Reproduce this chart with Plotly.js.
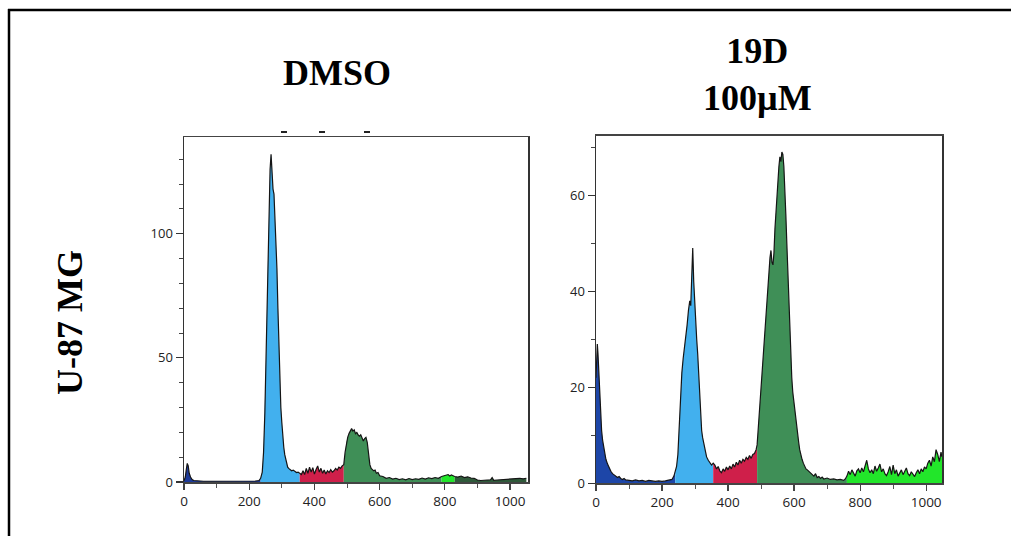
<!DOCTYPE html>
<html>
<head>
<meta charset="utf-8">
<script src="https://cdn.plot.ly/plotly-3.0.1.min.js"></script>
<style>html,body{margin:0;padding:0;background:#fff;}#chart{width:1011px;height:536px;}</style>
</head>
<body>
<div id="chart"></div>
<script>
// ---- DMSO histogram (channel, count) ----
const dmsoX = [0,4,7,10,13,16,20,25,30,40,60,80,100,120,140,160,180,200,220,230,235,
  240,244,248,252,256,260,264,267,270,273,276,279,282,285,288,291,294,297,300,303,306,309,312,315,318,321,325,330,335,340,345,350,355,
  360,365,370,375,380,385,390,395,400,405,410,415,420,425,430,435,440,445,450,455,460,465,470,475,480,485,490,
  494,498,502,506,510,514,518,522,526,530,534,538,542,546,550,554,558,562,566,570,574,578,582,586,590,595,600,610,620,630,640,650,660,670,680,690,700,710,720,730,740,750,
  760,770,780,790,800,810,815,820,830,840,850,860,870,880,890,900,910,920,930,940,945,950,960,970,980,990,1000,1010,1020,1030,1040,1050];
const dmsoY = [0.5,2,5,7.5,6.5,3.5,2,1,0.6,0.4,0.3,0.3,0.3,0.2,0.3,0.3,0.3,0.3,0.4,0.6,1.5,
  4,12,28,52,80,108,126,132,124,118,116,108,98,86,70,55,42,30,24,18,14,11,9,7,6,5.5,5,4.5,4.8,4.2,3.8,4,3.5,
  3,4.5,3,5.5,3.5,6,4,5.8,3.2,5,6.5,4,5.5,3.5,4.8,3.2,4.5,3.8,5,4,4.5,5.5,4.8,6,5.5,6.5,7,
  12,16,18,19.5,20.5,21.5,20.5,21,19.5,20,19,18.5,19,17.5,16.5,17.5,18,16,11,7,5.5,5,4.5,4.8,3.5,3.8,2.5,2.2,1.5,1.8,1.2,1.5,1,1.3,0.9,1.4,1,1.3,1.1,1.6,1.2,1.7,
  1.4,1.8,1.5,2.2,2.5,3,2.4,2.8,2.2,2,2.4,1.8,2.1,1.6,1.5,0.8,0.6,0.7,0.6,0.9,1.8,0.7,0.8,0.9,1.1,0.9,1.2,1.3,1.2,1.5,1.3,1.5];
const dmsoGates = [0,235,355,490,790,830,1050];
const dmsoColors = ['#1d3a98','#42b0ee','#cf1f4a','#3f8f57','#22e62a','#2f5a3a'];

// ---- 19D 100µM histogram ----
const d19X = [0,2,4,6,8,10,12,14,17,20,23,26,30,35,40,45,50,55,60,65,70,75,80,85,90,100,110,120,130,140,150,160,170,180,190,200,210,220,230,236,240,
  244,248,252,256,260,264,268,272,276,280,284,287,290,293,296,299,302,305,308,311,314,317,320,323,327,331,335,340,345,350,355,
  360,365,370,375,380,385,390,395,400,405,410,415,420,425,430,435,440,445,450,455,460,465,470,475,480,485,488,
  491,495,499,503,507,511,515,519,523,527,530,533,536,539,542,545,548,551,554,557,560,563,566,569,572,575,578,581,584,587,590,593,596,599,602,605,608,611,614,617,620,624,628,632,636,640,645,650,655,660,665,670,675,680,685,690,700,710,720,730,740,750,755,760,
  765,770,775,780,785,790,795,800,805,810,815,820,825,830,835,840,845,850,855,860,865,870,875,880,885,890,895,900,905,910,915,920,925,930,935,940,945,950,955,960,965,970,975,980,985,990,995,1000,1005,1010,1015,1020,1025,1030,1035,1040,1045,1048];
const d19Y = [22,28,29,27,24,20,16,13,11,9,7.5,6,5,4,3.2,2.5,2,1.8,1.5,1.2,1.4,1,0.8,1,0.7,0.6,0.5,0.7,0.5,0.6,0.4,0.6,0.5,0.4,0.5,0.4,0.5,0.6,0.8,1.5,2.5,
  3.5,6,12,18,23,26,28,31,33,36,38,37,44,49,42,37,35,30,27,23,19,14,11,9.5,8,6.5,5.5,4.8,4.2,3.8,4.2,
  3.8,3,3.5,2.6,2.2,3,2.5,3.4,2.8,3.6,3,4,3.4,4.4,3.8,4.8,4.2,5,4.6,5.4,5,5.8,5.2,6,6.2,7,8,
  11,15,20,25,28,32,35,40,44,47,48.5,46,45.5,48,53,57,61,63,66,68,67,69,68.5,66,62,56,50,44,38,33,27,22,19,17,16,14,12,10,8.5,7,6,5,4.2,3.5,3,2.8,2.5,2.2,1.8,1.5,2,1.2,1.4,1,1.3,0.9,1.1,0.8,0.9,0.7,0.8,0.6,0.9,1.5,
  2.5,1.8,2.8,2,1.5,2.6,3,2.2,3.2,2.4,3.5,4.8,3,2.2,2.8,2,3.6,2.5,3.2,4,2.4,3,2,1.6,2.4,3.5,1.8,3.8,2,2.8,1.5,2.2,2.8,1.8,2.5,3.2,2,1.6,2.4,2,1.4,2.2,2.8,2,3,2.4,3.4,3,4.2,4.8,3.6,5.5,4.5,7,6,4.5,6.5,5.5];
const d19Gates = [0,240,355,488,760,1048];
const d19Colors = ['#1d46a8','#42b0ee','#cf1f4a','#3f8f57','#22e62a'];

const xTicks = [0,200,400,600,800,1000];
const titles = ['<b>DMSO</b>','<b>19D</b><br><b>100µM</b>'];
const rowLabel = '<b>U-87 MG</b>';

function buildTraces(xs, ys, gates, colors, xa, ya) {
  const out = [];
  for (let g = 0; g < gates.length - 1; g++) {
    const sx = [], sy = [];
    for (let i = 0; i < xs.length; i++) {
      if (xs[i] >= gates[g] && xs[i] <= gates[g+1]) { sx.push(xs[i]); sy.push(ys[i]); }
    }
    out.push({x: sx, y: sy, xaxis: xa, yaxis: ya, type: 'scatter', mode: 'lines',
      fill: 'tozeroy', fillcolor: colors[g], line: {width: 0, color: colors[g]}, hoverinfo: 'skip'});
  }
  out.push({x: xs, y: ys, xaxis: xa, yaxis: ya, type: 'scatter', mode: 'lines',
    line: {width: 1.2, color: '#151515'}, hoverinfo: 'skip'});
  return out;
}

const data = [].concat(
  buildTraces(dmsoX, dmsoY, dmsoGates, dmsoColors, 'x', 'y'),
  buildTraces(d19X, d19Y, d19Gates, d19Colors, 'x2', 'y2')
);

const W = 1011, H = 536;
const px = v => v / W, py = v => (H - v) / H;
const tickFont = {family: 'Open Sans, DejaVu Sans, sans-serif', size: 13.5, color: '#222'};
function xAxis(dom, rng, anchor) {
  return {domain: dom, range: rng, anchor: anchor, showline: true, linecolor: '#444', linewidth: 1.5, mirror: true,
    ticks: 'outside', ticklen: 6, tickwidth: 1.2, tickcolor: '#444', tickvals: xTicks, ticktext: xTicks.map(String),
    minor: {dtick: 100, tick0: 0, ticks: 'outside', ticklen: 4, tickwidth: 1, tickcolor: '#555'},
    showgrid: false, zeroline: false, tickfont: tickFont, fixedrange: true};
}
function yAxis(dom, rng, anchor, dt) {
  return {domain: dom, range: rng, anchor: anchor, showline: true, linecolor: '#333', linewidth: 1.5, mirror: true,
    ticks: 'outside', ticklen: 7, tickwidth: 1.2, tickcolor: '#333', dtick: dt, tick0: 0,
    minor: {dtick: 10, tick0: 0, ticks: 'outside', ticklen: 4, tickwidth: 1, tickcolor: '#444'},
    showgrid: false, zeroline: false, tickfont: Object.assign({}, tickFont, {size: 13}), fixedrange: true};
}

const serif = {family: 'Liberation Serif, Times New Roman, serif', size: 36, color: '#000'};
const layout = {
  width: W, height: H, margin: {l: 0, r: 0, t: 0, b: 0},
  paper_bgcolor: '#fff', plot_bgcolor: '#fff', showlegend: false,
  xaxis: xAxis([px(184), px(528)], [0, 1055], 'y'),
  yaxis: yAxis([py(482), py(137)], [0, 139], 'x', 50),
  xaxis2: xAxis([px(596), px(942)], [0, 1048], 'y2'),
  yaxis2: yAxis([py(483.3), py(135.7)], [0, 72.4], 'x2', 20),
  annotations: [
    {text: titles[0], x: px(337), y: py(73), xref: 'paper', yref: 'paper', xanchor: 'center', yanchor: 'middle', showarrow: false, font: serif},
    {text: titles[1], x: px(757), y: py(74), xref: 'paper', yref: 'paper', xanchor: 'center', yanchor: 'middle', showarrow: false, font: serif},
    {text: rowLabel, x: px(70), y: py(323), xref: 'paper', yref: 'paper', xanchor: 'center', yanchor: 'middle', showarrow: false, textangle: -90, font: serif}
  ],
  shapes: [
    {type: 'line', xref: 'paper', yref: 'paper', x0: px(8), x1: 1, y0: py(10), y1: py(10), line: {color: '#000', width: 2.5}},
    {type: 'line', xref: 'paper', yref: 'paper', x0: px(9), x1: px(9), y0: py(9), y1: 0, line: {color: '#000', width: 2.5}},
    {type: 'line', xref: 'paper', yref: 'paper', x0: px(281), x1: px(287), y0: py(132), y1: py(132), line: {color: '#222', width: 2}},
    {type: 'line', xref: 'paper', yref: 'paper', x0: px(319), x1: px(325), y0: py(132), y1: py(132), line: {color: '#222', width: 2}},
    {type: 'line', xref: 'paper', yref: 'paper', x0: px(364), x1: px(370), y0: py(132), y1: py(132), line: {color: '#222', width: 2}}
  ]
};

Plotly.newPlot('chart', data, layout, {displayModeBar: false, staticPlot: true});
</script>
</body>
</html>
